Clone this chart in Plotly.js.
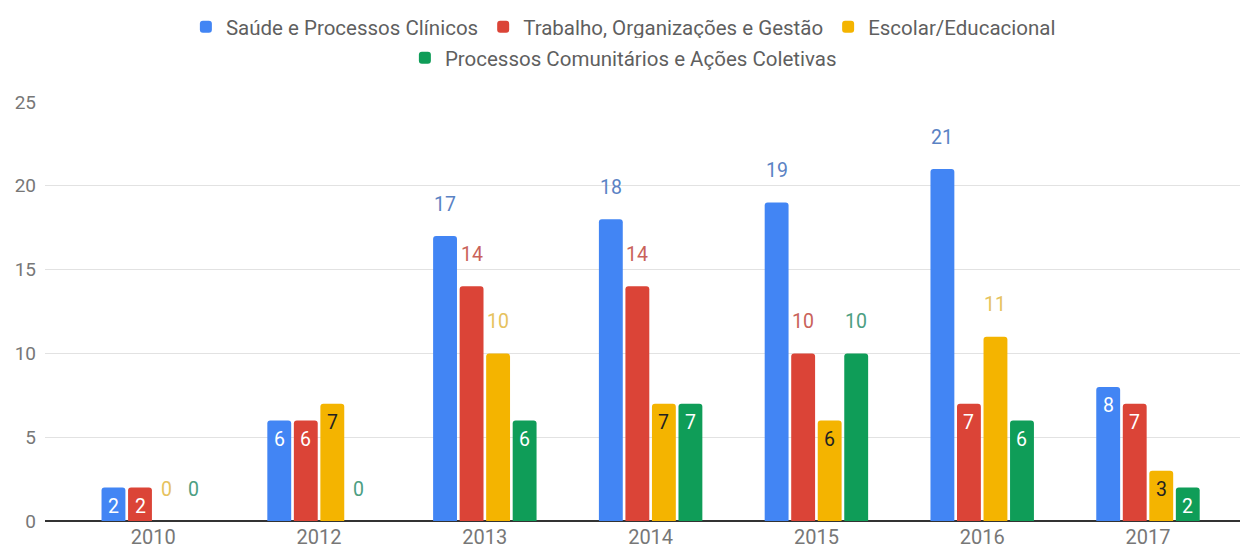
<!DOCTYPE html>
<html>
<head>
<meta charset="utf-8">
<script src="https://cdn.plot.ly/plotly-3.0.1.min.js"></script>
<style>html,body{margin:0;padding:0;background:#fff;}#chart{width:1247px;height:551px;}</style>
</head>
<body>
<div id="chart"></div>
<script>
const years = ['2010', '2012', '2013', '2014', '2015', '2016', '2017'];
const seriesNames = ['Saúde e Processos Clínicos', 'Trabalho, Organizações e Gestão', 'Escolar/Educacional', 'Processos Comunitários e Ações Coletivas'];
const saude = [2, 6, 17, 18, 19, 21, 8];
const trabalho = [2, 6, 14, 14, 10, 7, 7];
const escolar = [0, 7, 10, 7, 6, 11, 3];
const comunitarios = [0, 0, 6, 7, 10, 6, 2];
// whether each data label sits inside the bar (true) or above it (false)
const saudeInside = [true, true, false, false, false, false, true];
const trabalhoInside = [true, true, false, false, false, true, true];
const escolarInside = [false, true, false, true, true, false, true];
const comunitariosInside = [false, false, true, true, false, true, true];
const yTicks = [0, 5, 10, 15, 20, 25];

const values = [saude, trabalho, escolar, comunitarios];
const inside = [saudeInside, trabalhoInside, escolarInside, comunitariosInside];
const colors = ['#4285F4', '#DB4437', '#F4B400', '#0F9D58'];
const outColors = ['#5a82c4', '#c9625a', '#e6c25e', '#4c9e82'];
const inColors = ['#ffffff', '#ffffff', '#222222', '#ffffff'];
const legends = ['legend', 'legend', 'legend', 'legend2'];

const traces = values.map((v, i) => ({
  type: 'bar',
  name: seriesNames[i],
  x: years,
  y: v,
  marker: {color: colors[i]},
  legend: legends[i],
  hoverinfo: 'skip'
}));

const slot = 26.5;
const annotations = [];
values.forEach((v, i) => {
  v.forEach((val, j) => {
    const ins = inside[i][j];
    annotations.push({
      x: j, y: val, xref: 'x', yref: 'y',
      text: String(val), showarrow: false,
      xshift: (i - 1.5) * slot,
      yshift: ins ? -19 : 32,
      yanchor: 'middle', xanchor: 'center',
      font: {family: 'Roboto, sans-serif', size: 19.5, color: ins ? inColors[i] : outColors[i]}
    });
  });
});

const layout = {
  width: 1247, height: 551,
  margin: {l: 45, r: 7, t: 102, b: 30},
  paper_bgcolor: '#fff', plot_bgcolor: '#fff',
  barmode: 'group', bargap: 0.36, bargroupgap: 0.1,
  barcornerradius: 3,
  font: {family: 'Roboto, sans-serif', size: 17, color: '#757575'},
  showlegend: true,
  legend: {orientation: 'h', x: 0.484, xanchor: 'center', y: 1.227, yanchor: 'top',
           font: {size: 20.5, color: '#5f5f5f'}, traceorder: 'normal'},
  legend2: {orientation: 'h', x: 0.484, xanchor: 'center', y: 1.153, yanchor: 'top',
            font: {size: 20.5, color: '#5f5f5f'}},
  xaxis: {type: 'category', range: [-0.653, 6.555], showgrid: false, zeroline: false,
          showline: false, ticks: '', ticklabelstandoff: 2, tickfont: {size: 20, color: '#777'}, fixedrange: true},
  yaxis: {range: [0, 25], tickvals: yTicks, showgrid: true, gridcolor: '#e2e2e2', gridwidth: 1,
          zeroline: true, zerolinecolor: '#333', zerolinewidth: 1.5,
          ticks: '', ticklabelstandoff: 8, tickfont: {size: 19, color: '#777'}, fixedrange: true},
  annotations: annotations
};

Plotly.newPlot('chart', traces, layout, {displayModeBar: false, staticPlot: true});
</script>
</body>
</html>
